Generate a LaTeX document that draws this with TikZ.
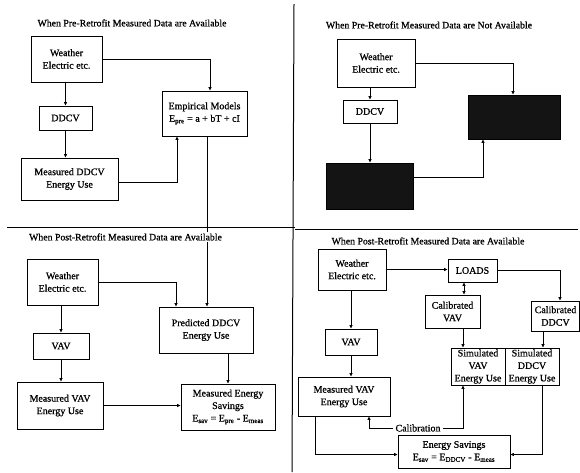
\documentclass[tikz,border=0pt]{standalone}
\usepackage{fontspec}
\setmainfont{Liberation Serif}[BoldFont={Liberation Serif}, BoldFeatures={FakeBold=0.8}]
\usetikzlibrary{arrows.meta}
\begin{document}
\begin{tikzpicture}[x=1pt,y=-1pt,
  every node/.style={font=\fontsize{10}{12.5}\selectfont\bfseries},
  bx/.style={draw, line width=0.9pt, align=center, inner sep=0pt},
  blk/.style={draw, line width=0.9pt, fill=black!92, inner sep=0pt},
  ttl/.style={inner sep=1pt, fill=white, font=\fontsize{9.8}{12}\selectfont\bfseries},
  arr/.style={line width=0.7pt, -{Triangle[length=3.5pt,width=3pt]}},
  darr/.style={line width=0.7pt, {Triangle[length=3.5pt,width=3pt]}-{Triangle[length=3.5pt,width=3pt]}},
  divl/.style={line width=1pt}]
\fill[white] (0,0) rectangle (580,472);
\useasboundingbox (0,0) rectangle (580,472);
% dividers
\draw[divl] (7,227) -- (295,227);
\draw[divl] (295,229) -- (578,229);
\draw[divl] (294,4) -- (292,472);
% ---------- top left ----------
\node[bx, minimum width=71pt, minimum height=46pt] (wTL) at (66.5,59) {Weather\\Electric etc.};
\node[bx, minimum width=53pt, minimum height=24pt] (dTL) at (65.5,118) {DDCV};
\node[bx, minimum width=97pt, minimum height=42pt] (mTL) at (69.5,179) {Measured DDCV\\Energy Use};
\node[bx, minimum width=85pt, minimum height=45pt] (eTL) at (204.5,113.5) {Empirical Models\\E\textsubscript{pre} = a + bT + cI};
\draw[arr] (wTL.south -| dTL.north) -- (dTL.north);
\draw[arr] (dTL.south) -- (dTL.south |- mTL.north);
\draw[arr] (wTL.east) -| ([xshift=5.5pt]eTL.north);
\draw[arr] ([yshift=-3pt]mTL.east) -| ([xshift=-27.5pt]eTL.south);
% ---------- top right ----------
\node[bx, minimum width=78pt, minimum height=48pt] (wTR) at (376,63) {Weather\\Electric etc.};
\node[bx, minimum width=54pt, minimum height=23pt] (dTR) at (370,111.5) {DDCV};
\node[blk, minimum width=87pt, minimum height=46pt] (bk1) at (369.5,186) {};
\node[blk, minimum width=92pt, minimum height=44pt] (bk2) at (514,117) {};
\draw[arr] (wTR.south -| dTR.north) -- (dTR.north);
\draw[arr] (dTR.south) -- (dTR.south |- bk1.north);
\draw[arr] (wTR.east) -| ([xshift=-1pt]bk2.north);
\draw[arr] ([yshift=9pt]bk1.east) -| ([xshift=-31pt]bk2.south);
% ---------- bottom left ----------
\node[bx, minimum width=71pt, minimum height=46pt] (wBL) at (62.5,282) {Weather\\Electric etc.};
\node[bx, minimum width=56pt, minimum height=26pt] (vBL) at (61,346) {VAV};
\node[bx, minimum width=86pt, minimum height=47pt] (mvBL) at (60,405.5) {Measured VAV\\Energy Use};
\node[bx, minimum width=94pt, minimum height=46pt] (pBL) at (206,330) {Predicted DDCV\\Energy Use};
\node[bx, minimum width=94pt, minimum height=46pt] (mesBL) at (228,407) {Measured Energy\\Savings\\E\textsubscript{sav} = E\textsubscript{pre} - E\textsubscript{meas}};
\draw[arr] (wBL.south -| vBL.north) -- (vBL.north);
\draw[arr] (vBL.south) -- (vBL.south |- mvBL.north);
\draw[arr] (wBL.east) -| ([xshift=-30pt]pBL.north);
\draw[arr] (mvBL.east) -- (mvBL.east -| mesBL.west);
\draw[arr] (pBL.south -| mesBL.north) -- (mesBL.north);
\draw[arr] ([xshift=2.5pt]eTL.south) -- ([xshift=2.5pt]eTL.south |- pBL.north);
% ---------- bottom right ----------
\node[bx, minimum width=68pt, minimum height=41pt] (wBR) at (352,269.5) {Weather\\Electric etc.};
\node[bx, minimum width=49pt, minimum height=23pt] (loads) at (472.5,270.5) {LOADS};
\node[bx, minimum width=55pt, minimum height=33pt] (cVAV) at (452.5,311.5) {Calibrated\\VAV};
\node[bx, minimum width=48pt, minimum height=30pt] (cDDCV) at (555.5,316) {Calibrated\\DDCV};
\node[bx, minimum width=54pt, minimum height=37pt] (sVAV) at (478,366.5) {Simulated\\VAV\\Energy Use};
\node[bx, minimum width=54pt, minimum height=37pt] (sDDCV) at (532,366.5) {Simulated\\DDCV\\Energy Use};
\node[bx, minimum width=52pt, minimum height=26pt] (vBR) at (351,342) {VAV};
\node[bx, minimum width=92pt, minimum height=39pt] (mvBR) at (344,396.5) {Measured VAV\\Energy Use};
\node[bx, minimum width=112pt, minimum height=33pt] (es) at (454,451.5) {Energy Savings\\E\textsubscript{sav} = E\textsubscript{DDCV} - E\textsubscript{meas}};
\node[inner sep=2pt] (calib) at (418,428) {Calibration};
\draw[arr] (wBR.east) -- (wBR.east -| loads.west);
\draw[darr] ([xshift=-8.5pt]loads.south) -- ([xshift=-8.5pt]loads.south |- cVAV.north);
\draw[arr] (loads.east) -| ([xshift=4.5pt]cDDCV.north);
\draw[arr] ([xshift=10.5pt]cVAV.south) -- ([xshift=10.5pt]cVAV.south |- sVAV.north);
\draw[arr] ([xshift=-12.5pt]cDDCV.south) -- ([xshift=-12.5pt]cDDCV.south |- sDDCV.north);
\draw[arr] (wBR.south -| vBR.north) -- (vBR.north);
\draw[arr] (vBR.south) -- (vBR.south |- mvBR.north);
\draw[arr] (calib.west) -| ([xshift=25pt]mvBR.south);
\draw[arr] (calib.east) -| ([xshift=-15pt]sVAV.south);
\draw[arr] ([xshift=-29pt]mvBR.south) |- ([yshift=-3pt]es.west);
\draw[arr] ([xshift=10pt]sDDCV.south) |- ([yshift=-3pt]es.east);
% ---------- titles ----------
\node[ttl] (t1) at (132,23) {When Pre-Retrofit Measured Data are Available};
\node[ttl] (t2) at (429,25) {When Pre-Retrofit Measured Data are Not Available};
\node[ttl] (t3) at (125.5,237) {When Post-Retrofit Measured Data are Available};
\node[ttl] (t4) at (428,241) {When Post-Retrofit Measured Data are Available};
\end{tikzpicture}
\end{document}
